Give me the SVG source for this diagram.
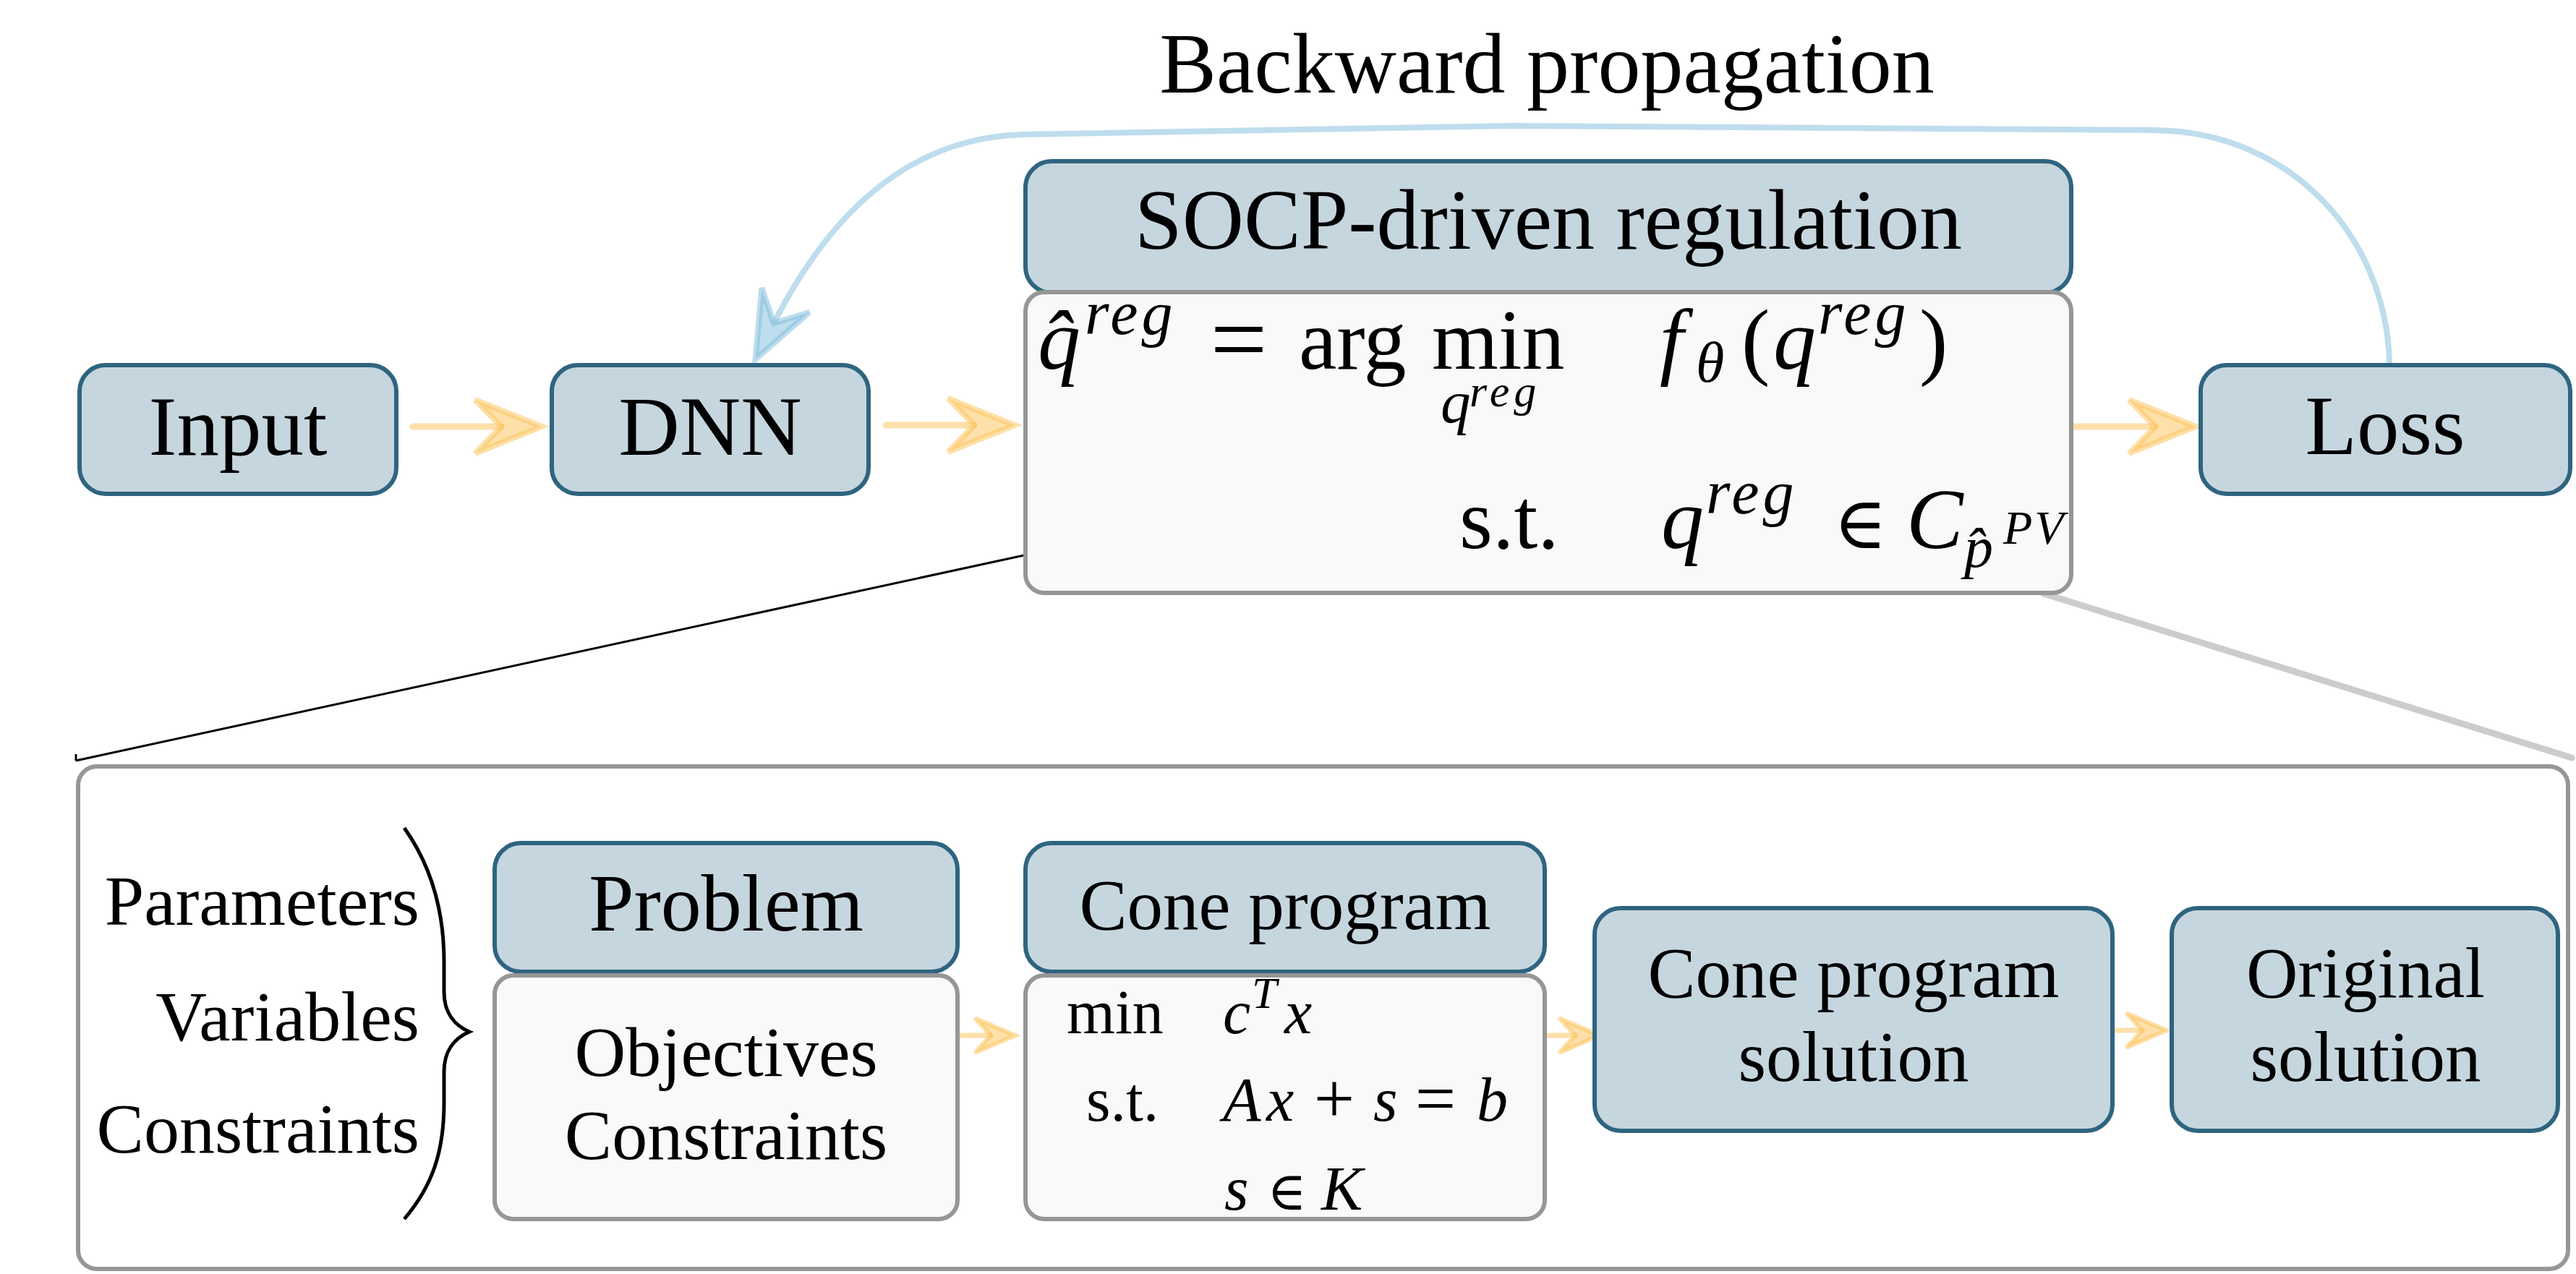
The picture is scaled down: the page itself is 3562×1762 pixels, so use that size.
<svg xmlns="http://www.w3.org/2000/svg" width="3562" height="1762" viewBox="0 0 3562 1762">
<style>
text{font-family:"Liberation Serif","Times New Roman",serif;fill:#000}
.hdr{fill:#C6D6DE;stroke:#2F6480;stroke-width:6}
.bdy{fill:#F9F9F9;stroke:#969696;stroke-width:6}
.lbl{font-size:117px;text-anchor:middle}
.lbl2{font-size:99px;text-anchor:middle}
.side{font-size:98px;text-anchor:end}
.mi{font-style:italic}
.m1{font-size:118px}
.m2{font-size:86px}
.m3{font-size:62px}
.c1{font-size:86px}
.sym{font-family:"DejaVu Serif",serif}
.ao{fill:none;stroke:#FBC255;stroke-opacity:0.5;stroke-width:9;stroke-linecap:round}
.aos{fill:none;stroke:#FBC255;stroke-opacity:0.5;stroke-width:7;stroke-linecap:round}
</style>
<defs>
<marker id="arrO" markerUnits="userSpaceOnUse" viewBox="-100 -100 200 200" markerWidth="200" markerHeight="200" refX="0" refY="0" orient="auto" overflow="visible">
<path d="M56,0 L-36,-37 L0,0 L-36,37 Z" fill="#FBC255" fill-opacity="0.5" stroke="#FBC255" stroke-opacity="0.5" stroke-width="8"/>
</marker>
<marker id="arrOs" markerUnits="userSpaceOnUse" viewBox="-100 -100 200 200" markerWidth="200" markerHeight="200" refX="0" refY="0" orient="auto" overflow="visible">
<path d="M34,0 L-22,-24 L0,0 L-22,24 Z" fill="#FBC255" fill-opacity="0.5" stroke="#FBC255" stroke-opacity="0.5" stroke-width="6"/>
</marker>
<marker id="arrB" markerUnits="userSpaceOnUse" viewBox="-100 -100 200 200" markerWidth="200" markerHeight="200" refX="0" refY="0" orient="auto" overflow="visible">
<path d="M56,0 L-36,-37 L0,0 L-36,37 Z" fill="#7DBBDB" fill-opacity="0.5" stroke="#7DBBDB" stroke-opacity="0.5" stroke-width="8"/>
</marker>
</defs>
<rect width="3562" height="1762" fill="#FFFFFF"/>

<g id="connectors">
<path d="M3304,502 C3300,330 3170,182 2979,180 L2090,174 L1415,186 C1260,190 1150,290 1070,447" fill="none" stroke="#7DBBDB" stroke-opacity="0.5" stroke-width="8" marker-end="url(#arrB)"/>
<text x="2139" y="128" style="font-size:118px;text-anchor:middle">Backward propagation</text>
<path class="ao" d="M571,590 L693,590" marker-end="url(#arrO)"/>
<path class="ao" d="M1225,588 L1347,588" marker-end="url(#arrO)"/>
<path class="ao" d="M2866,590 L2980,590" marker-end="url(#arrO)"/>
<path class="aos" d="M1327,1432 L1370,1432" marker-end="url(#arrOs)"/>
<path class="aos" d="M2139,1432 L2178,1432" marker-end="url(#arrOs)"/>
<path class="aos" d="M2924,1425 L2962,1425" marker-end="url(#arrOs)"/>
<path d="M1416,768 L105,1052 M105,1043 L105,1052" fill="none" stroke="#000" stroke-width="3"/>
<path d="M2826,821 L3556,1048" fill="none" stroke="#CCCCCC" stroke-width="9" stroke-linecap="round"/>
</g>

<g id="input">
<rect class="hdr" x="110" y="505" width="438" height="178" rx="36"/>
<text class="lbl" x="329" y="629">Input</text>
</g>
<g id="dnn">
<rect class="hdr" x="763" y="505" width="438" height="178" rx="36"/>
<text class="lbl" x="982" y="629">DNN</text>
</g>
<g id="loss">
<rect class="hdr" x="3043" y="505" width="511" height="178" rx="36"/>
<text class="lbl" x="3298" y="628">Loss</text>
</g>

<g id="socp">
<rect class="hdr" x="1418" y="223" width="1446" height="182" rx="36"/>
<text x="2141" y="344" style="font-size:118px;text-anchor:middle">SOCP-driven regulation</text>
<rect class="bdy" x="1418" y="404" width="1446" height="416" rx="26"/>
<text class="mi m1" x="1435" y="510">q̂</text>
<text class="mi m2" x="1500" y="462" letter-spacing="5">reg</text>
<text class="m1" x="1713" y="516" text-anchor="middle" style="font-size:140px">=</text>
<text class="m1" x="1796" y="510">arg</text>
<text class="m1" x="1980" y="510">min<tspan class="mi" x="1992" y="584" style="font-size:83px">q</tspan><tspan class="mi m3" x="2032" y="562" letter-spacing="6">reg</tspan></text>
<text class="mi m1" x="2295" y="510">f</text>
<text class="mi" x="2345" y="528" style="font-size:80px">θ</text>
<text class="m1" x="2408" y="510">(</text>
<text class="mi m1" x="2452" y="510">q</text>
<text class="mi m2" x="2514" y="462" letter-spacing="5">reg</text>
<text class="m1" x="2654" y="510">)</text>
<text class="m1" x="2018" y="758">s.t.</text>
<text class="mi m1" x="2297" y="758">q</text>
<text class="mi m2" x="2359" y="710" letter-spacing="5">reg</text>
<text class="sym" x="2535" y="758" style="font-size:100px">∈</text>
<text class="mi m1" x="2636" y="758">C</text>
<text class="mi" x="2716" y="784" style="font-size:80px">p̂</text>
<text class="mi" x="2770" y="752" style="font-size:66px" letter-spacing="3">PV</text>
</g>

<g id="lower-frame">
<rect x="108" y="1060" width="3443" height="695" rx="26" fill="none" stroke="#969696" stroke-width="6"/>
</g>

<g id="brace">
<path d="M559,1145 C598,1200 614,1262 614,1330 L614,1372 C614,1400 628,1418 649,1427 C628,1436 614,1454 614,1482 L614,1525 C614,1593 598,1640 559,1686" fill="none" stroke="#000" stroke-width="5"/>
<text class="side" x="580" y="1279">Parameters</text>
<text class="side" x="580" y="1439">Variables</text>
<text class="side" x="580" y="1594">Constraints</text>
</g>

<g id="problem">
<rect class="hdr" x="684" y="1166" width="640" height="178" rx="36"/>
<text x="1004" y="1287" style="font-size:112px;text-anchor:middle">Problem</text>
<rect class="bdy" x="684" y="1349" width="640" height="337" rx="26"/>
<text x="1004" y="1488" style="font-size:98px;text-anchor:middle">Objectives</text>
<text x="1004" y="1603" style="font-size:98px;text-anchor:middle">Constraints</text>
</g>

<g id="cone-program">
<rect class="hdr" x="1418" y="1166" width="718" height="178" rx="36"/>
<text class="lbl2" x="1777" y="1285">Cone program</text>
<rect class="bdy" x="1418" y="1349" width="718" height="337" rx="26"/>
<text class="c1" x="1475" y="1429">min</text>
<text class="mi c1" x="1691" y="1429">c</text>
<text class="mi" x="1731" y="1394" style="font-size:62px">T</text>
<text class="mi c1" x="1776" y="1429">x</text>
<text class="c1" x="1502" y="1550">s.t.</text>
<text class="mi c1" x="1691" y="1550">A</text>
<text class="mi c1" x="1751" y="1550">x</text>
<text class="c1" x="1845" y="1553" text-anchor="middle" style="font-size:100px">+</text>
<text class="mi c1" x="1899" y="1550">s</text>
<text class="c1" x="1985" y="1553" text-anchor="middle" style="font-size:100px">=</text>
<text class="mi c1" x="2042" y="1550">b</text>
<text class="mi c1" x="1693" y="1673">s</text>
<text class="sym" x="1752" y="1673" style="font-size:74px">∈</text>
<text class="mi c1" x="1827" y="1673">K</text>
</g>

<g id="cone-solution">
<rect class="hdr" x="2205" y="1256" width="716" height="308" rx="36"/>
<text class="lbl2" x="2563" y="1379">Cone program</text>
<text class="lbl2" x="2563" y="1495">solution</text>
</g>

<g id="original-solution">
<rect class="hdr" x="3003" y="1256" width="534" height="308" rx="36"/>
<text class="lbl2" x="3271" y="1379">Original</text>
<text class="lbl2" x="3271" y="1495">solution</text>
</g>
</svg>
